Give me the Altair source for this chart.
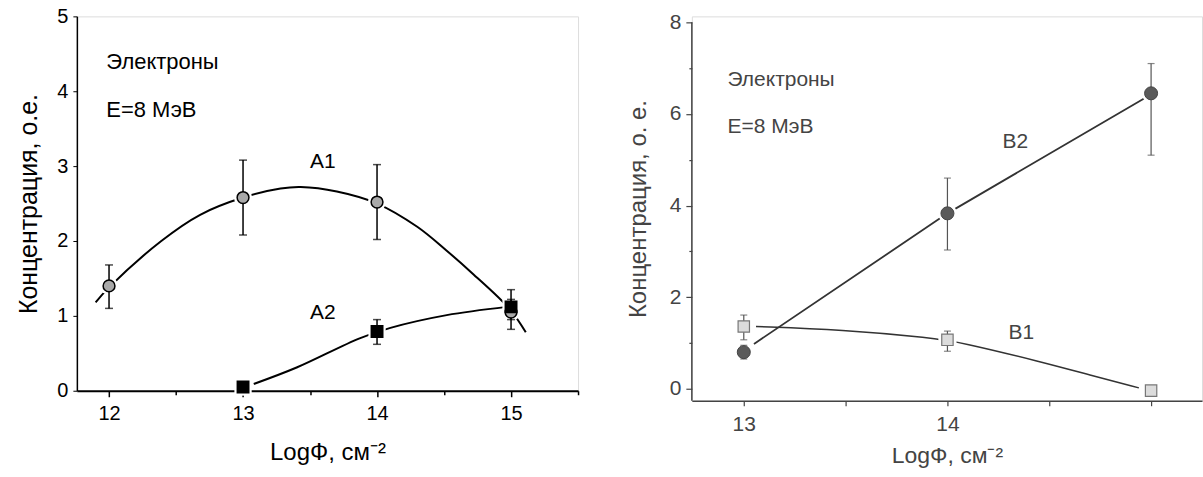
import altair as alt
import pandas as pd

# ---------------- Left panel data ----------------
a1_x = [12, 13, 14, 15]
a1_y = [1.40, 2.58, 2.52, 1.05]
a1_lo = [1.10, 2.08, 2.02, 0.82]
a1_hi = [1.68, 3.08, 3.02, 1.22]
a1_cx = [11.9, 12.0, 12.39, 12.68, 13.0, 13.28, 13.43, 13.7, 14.0, 14.3, 14.52, 14.71, 14.99, 15.11]
a1_cy = [1.18, 1.38, 2.00, 2.35, 2.58, 2.70, 2.72, 2.66, 2.50, 2.19, 1.87, 1.57, 1.09, 0.78]

a2_x = [13, 14, 15]
a2_y = [0.05, 0.79, 1.12]
a2_ex = [14, 15]
a2_lo = [0.62, 0.95]
a2_hi = [0.95, 1.35]
a2_cx = [13.08, 13.4, 13.87, 14.1, 14.52, 14.97]
a2_cy = [0.09, 0.31, 0.70, 0.84, 1.01, 1.12]

# ---------------- Right panel data ----------------
b2_x = [13, 14, 15]
b2_y = [0.80, 3.83, 6.45]
b2_lo = [0.65, 3.03, 5.10]
b2_hi = [0.95, 4.60, 7.10]
b2_cx = [13.05, 14.0, 14.97]
b2_cy = [0.98, 3.83, 6.35]

b1_x = [13, 14, 15]
b1_y = [1.36, 1.07, -0.04]
b1_ex = [13, 14]
b1_lo = [1.07, 0.82]
b1_hi = [1.61, 1.26]
b1_cx = [13.06, 13.48, 13.93, 14.06, 14.46, 14.70, 14.94]
b1_cy = [1.36, 1.29, 1.11, 1.02, 0.59, 0.30, 0.02]

y_title_l = "Концентрация, о.е."
y_title_r = "Концентрация, о. е."
x_title = "LogФ, см⁻²"
txt1 = "Электроны"
txt2 = "E=8 МэВ"

FONT = "Liberation Sans"

# ---------------- Left panel ----------------
xl = alt.Scale(domain=[11.76, 15.5], nice=False, zero=False)
yl = alt.Scale(domain=[0, 5], nice=False)

xl_axis = alt.Axis(values=[12, 12.5, 13, 13.5, 14, 14.5, 15, 15.5],
                   labelExpr="datum.value % 1 === 0 ? format(datum.value, 'd') : ''",
                   tickSize={"condition": {"test": "datum.value % 1 === 0", "value": 6}, "value": 4},
                   grid=False, domainColor="black", tickColor="black", domainWidth=2, tickWidth=1.5,
                   labelFont=FONT, labelFontSize=20, labelColor="black", labelPadding=7,
                   title=x_title, titleFont=FONT, titleFontSize=24, titleFontWeight="normal",
                   titleColor="black", titlePadding=17)
yl_axis = alt.Axis(values=[0, 0.5, 1, 1.5, 2, 2.5, 3, 3.5, 4, 4.5, 5],
                   labelExpr="datum.value % 1 === 0 ? format(datum.value, 'd') : ''",
                   tickSize={"condition": {"test": "datum.value % 1 === 0", "value": 4}, "value": 2},
                   grid=False, domainColor="black", tickColor="black", domainWidth=1.5, tickWidth=1,
                   labelFont=FONT, labelFontSize=20, labelColor="black", labelPadding=5,
                   title=y_title_l, titleFont=FONT, titleFontSize=25, titleFontWeight="normal",
                   titleColor="black", titlePadding=15)

a1_curve = pd.DataFrame({"x": a1_cx, "y": a1_cy})
a2_curve = pd.DataFrame({"x": a2_cx, "y": a2_cy})
a1_df = pd.DataFrame({"x": a1_x, "y": a1_y, "lo": a1_lo, "hi": a1_hi})
a2_df = pd.DataFrame({"x": a2_x, "y": a2_y})
a2_err = pd.DataFrame({"x": a2_ex, "lo": a2_lo, "hi": a2_hi})

l_line1 = alt.Chart(a1_curve).mark_line(color="black", strokeWidth=2, interpolate="catmull-rom").encode(
    x=alt.X("x:Q", scale=xl, axis=xl_axis), y=alt.Y("y:Q", scale=yl, axis=yl_axis))
l_line2 = alt.Chart(a2_curve).mark_line(color="black", strokeWidth=2, interpolate="catmull-rom").encode(
    x="x:Q", y="y:Q")
l_halo1 = alt.Chart(a1_df).mark_point(shape="circle", filled=True, color="white", size=330, opacity=1).encode(
    x="x:Q", y="y:Q")
l_halo2 = alt.Chart(a2_df).mark_point(shape="square", filled=True, color="white", size=300, opacity=1).encode(
    x="x:Q", y="y:Q")
l_err1 = alt.Chart(a1_df).mark_rule(color="black", strokeWidth=1.5).encode(x="x:Q", y="lo:Q", y2="hi:Q")
l_cap1a = alt.Chart(a1_df).mark_tick(color="black", size=8, thickness=1.5, orient="horizontal").encode(x="x:Q", y="lo:Q")
l_cap1b = alt.Chart(a1_df).mark_tick(color="black", size=8, thickness=1.5, orient="horizontal").encode(x="x:Q", y="hi:Q")
l_err2 = alt.Chart(a2_err).mark_rule(color="black", strokeWidth=1.5).encode(x="x:Q", y="lo:Q", y2="hi:Q")
l_cap2a = alt.Chart(a2_err).mark_tick(color="black", size=8, thickness=1.5, orient="horizontal").encode(x="x:Q", y="lo:Q")
l_cap2b = alt.Chart(a2_err).mark_tick(color="black", size=8, thickness=1.5, orient="horizontal").encode(x="x:Q", y="hi:Q")
l_pt1 = alt.Chart(a1_df).mark_point(shape="circle", filled=True, fill="#a9a9a9", stroke="black",
                                     strokeWidth=1.5, size=140, opacity=1).encode(x="x:Q", y="y:Q")
l_pt2 = alt.Chart(a2_df).mark_point(shape="square", filled=True, fill="black", stroke="black",
                                     size=120, opacity=1).encode(x="x:Q", y="y:Q")

l_text = alt.Chart(pd.DataFrame({"x": [11.98, 11.98],
                                  "y": [4.39, 3.75],
                                  "t": [txt1, txt2]})).mark_text(
    align="left", baseline="middle", font=FONT, fontSize=22, color="black").encode(
    x="x:Q", y="y:Q", text="t:N")
l_lab = alt.Chart(pd.DataFrame({"x": [13.5, 13.5],
                                 "y": [3.05, 1.04],
                                 "t": ["A1", "A2"]})).mark_text(
    align="left", baseline="middle", font=FONT, fontSize=21, color="black").encode(
    x="x:Q", y="y:Q", text="t:N")

left = alt.layer(l_line1, l_line2, l_halo1, l_halo2, l_err1, l_cap1a, l_cap1b, l_err2, l_cap2a, l_cap2b,
                 l_pt1, l_pt2, l_text, l_lab).properties(width=502, height=375)

# ---------------- Right panel ----------------
GR = "#444444"
xr = alt.Scale(domain=[12.745, 15.25], nice=False, zero=False)
yr = alt.Scale(domain=[-0.26, 8.13], nice=False, zero=False)

xr_axis = alt.Axis(values=[13, 13.5, 14, 14.5, 15],
                   labelExpr="(datum.value === 13 || datum.value === 14) ? format(datum.value, 'd') : ''",
                   tickSize=5, grid=False, domainColor=GR, tickColor=GR, domainWidth=1.5, tickWidth=1.2,
                   labelFont=FONT, labelFontSize=21, labelColor=GR, labelPadding=8,
                   title=x_title, titleFont=FONT, titleFontSize=23, titleFontWeight="normal",
                   titleColor=GR, titlePadding=10)
yr_axis = alt.Axis(values=[0, 1, 2, 3, 4, 5, 6, 7, 8],
                   labelExpr="datum.value % 2 === 0 ? format(datum.value, 'd') : ''",
                   tickSize={"condition": {"test": "datum.value % 2 === 0", "value": 6}, "value": 3},
                   grid=False, domain=False, tickColor=GR, tickWidth=1.2,
                   labelFont=FONT, labelFontSize=21, labelColor=GR, labelPadding=5,
                   title=y_title_r, titleFont=FONT, titleFontSize=24, titleFontWeight="normal",
                   titleColor=GR, titlePadding=19)

b2_curve = pd.DataFrame({"x": b2_cx, "y": b2_cy})
b1_curve = pd.DataFrame({"x": b1_cx, "y": b1_cy})
b2_df = pd.DataFrame({"x": b2_x, "y": b2_y, "lo": b2_lo, "hi": b2_hi})
b1_df = pd.DataFrame({"x": b1_x, "y": b1_y})
b1_err = pd.DataFrame({"x": b1_ex, "lo": b1_lo, "hi": b1_hi})

r_axisline = alt.Chart(pd.DataFrame({"a": [-0.26], "b": [8.0]})).mark_rule(color=GR, strokeWidth=1.5).encode(
    x=alt.value(0), y=alt.Y("a:Q", scale=yr, axis=yr_axis), y2="b:Q")
r_line2 = alt.Chart(b2_curve).mark_line(color="#333333", strokeWidth=1.8).encode(
    x=alt.X("x:Q", scale=xr, axis=xr_axis), y="y:Q")
r_line1 = alt.Chart(b1_curve).mark_line(color="#333333", strokeWidth=1.5, interpolate="basis").encode(
    x="x:Q", y="y:Q")
r_halo2 = alt.Chart(b2_df).mark_point(shape="circle", filled=True, color="white", size=360, opacity=1).encode(
    x="x:Q", y="y:Q")
r_halo1 = alt.Chart(b1_df).mark_point(shape="square", filled=True, color="white", size=330, opacity=1).encode(
    x="x:Q", y="y:Q")
r_err2 = alt.Chart(b2_df).mark_rule(color="#555555", strokeWidth=1.2).encode(x="x:Q", y="lo:Q", y2="hi:Q")
r_cap2a = alt.Chart(b2_df).mark_tick(color="#555555", size=7, thickness=1.2, orient="horizontal").encode(x="x:Q", y="lo:Q")
r_cap2b = alt.Chart(b2_df).mark_tick(color="#555555", size=7, thickness=1.2, orient="horizontal").encode(x="x:Q", y="hi:Q")
r_err1 = alt.Chart(b1_err).mark_rule(color="#555555", strokeWidth=1.2).encode(x="x:Q", y="lo:Q", y2="hi:Q")
r_cap1a = alt.Chart(b1_err).mark_tick(color="#555555", size=7, thickness=1.2, orient="horizontal").encode(x="x:Q", y="lo:Q")
r_cap1b = alt.Chart(b1_err).mark_tick(color="#555555", size=7, thickness=1.2, orient="horizontal").encode(x="x:Q", y="hi:Q")
r_pt2 = alt.Chart(b2_df).mark_point(shape="circle", filled=True, fill="#5a5a5a", stroke="#444444",
                                     strokeWidth=1, size=170, opacity=1).encode(x="x:Q", y="y:Q")
r_pt1 = alt.Chart(b1_df).mark_point(shape="square", filled=True, fill="#dcdcdc", stroke="#777777",
                                     strokeWidth=1.2, size=130, opacity=1).encode(x="x:Q", y="y:Q")

r_text = alt.Chart(pd.DataFrame({"x": [12.92, 12.92, 14.27, 14.3],
                                  "y": [6.73, 5.71, 5.38, 1.22],
                                  "t": [txt1, txt2, "B2", "B1"]})).mark_text(
    align="left", baseline="middle", font=FONT, fontSize=21, color=GR).encode(
    x="x:Q", y="y:Q", text="t:N")

right = alt.layer(r_axisline, r_line2, r_line1, r_halo2, r_halo1, r_err2, r_cap2a, r_cap2b,
                  r_err1, r_cap1a, r_cap1b, r_pt2, r_pt1, r_text).properties(width=511, height=385)

chart = alt.hconcat(left, right, spacing=45).properties(
    padding={"left": 16, "top": 5, "right": 0, "bottom": 0}
).configure_view(stroke=None).configure(background="white")

chart.save("out.html", embed_options={"renderer": "svg", "actions": False})
